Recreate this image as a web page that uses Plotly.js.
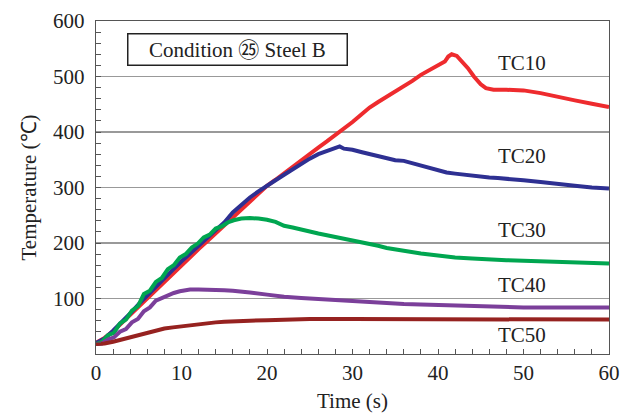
<!DOCTYPE html>
<html>
<head>
<meta charset="utf-8">
<script src="https://cdn.plot.ly/plotly-3.0.1.min.js"></script>
<style>html,body{margin:0;padding:0;background:#fff;}#chart{width:630px;height:414px;}</style>
</head>
<body>
<div id="chart"></div>
<script>
// Time (s) and temperature (°C)
const tc10_t = [0,1,2,3,4,5,6,7,8,9,10,11,12,13,14,15,16,17,18,19,20,21,22,23,24,25,26,27,28,29,30,31,32,33,34,35,36,37,38,39,40,40.8,41.2,41.6,42.2,42.8,43.5,44.2,45,45.6,46.5,48,50,52,54,56,58,60];
const tc10_v = [20,29,41,56,70,86,101,116,131,146,160,175,189,203,217,231,245,259,274,289,303,314,326,338,350,360,372,383,394,406,418,431,444,454,463,472,482,492,503,512,520,527,536,540,537,528,515,500,486,479,476,476,475,470,463,457,451,445];

const tc20_t = [0,1,2,3,4,5,6,7,8,9,10,11,12,13,14,15,16,17,18,19,20,21,22,23,24,25,26,27,28,28.5,29,30,31,32,33,34,35,36,37,38,39,40,41,42,43,44,45,46,47,48,50,52,54,56,58,60];
const tc20_v = [20,28,42,57,73,90,106,121,137,152,167,181,195,209,222,237,255,269,282,293,302,313,323,333,343,352,360,366,371,374,370,368,364,360,357,352,349,348,344,340,335,331,327,325,323,322,320,318,317,316,313,310,306,303,300,298];

const tc30_t = [0,0.7,1.4,2.1,2.8,3.5,4.2,4.9,5.6,6.3,7.0,7.7,8.4,9.1,9.8,10.5,11.2,11.9,12.6,13.3,14.0,14.7,15.4,16.1,17,18,19,20,21,22,23,24,25,26,27,28,29,30,31,32,33,34,35,36,38,40,42,44,46,48,50,53,56,60];
const tc30_v = [18,22,34,38,55,62,78,86,108,114,130,137,153,160,174,180,192,199,210,215,226,230,237,241,244,245,244,242,238,231,228,224,220,217,214,211,207,204,201,198,195,191,188,186,181,177,174,172,170,169,168,166,165,163];

const tc40_t = [0,0.7,1.4,2.1,2.8,3.5,4.2,4.9,5.6,6.3,7.0,7.7,8.4,9.1,9.8,10.5,11,12,13,14,15,16,17,18,20,22,24,26,28,30,32,34,36,38,40,42,44,46,48,50,55,60];
const tc40_v = [18,19,26,30,40,45,57,63,77,84,96,101,107,110,113,115,116,116,116,115,115,114,113,111,107,103,101,99,97,95,93,91,90,89,88,87,86,85,84,84,84,84];

const tc50_t = [0,1,2,3,4,5,6,7,8,9,10,11,12,13,14,15,16,18,20,22,25,30,35,40,45,50,55,60];
const tc50_v = [18,19,22,26,30,35,39,43,46,48,50,52,54,55,57,58,59,60,61,62,63,63,63,62.5,62,62,62,62];

const seriesNames = ["TC10","TC20","TC30","TC40","TC50"];
const seriesColors = ["#EE2B2E","#2E3092","#00A650","#7B3F9A","#962220"];
const labelY = [525,357,223,125,35];
const yTicks = [100,200,300,400,500,600];

const xs = [tc10_t,tc20_t,tc30_t,tc40_t,tc50_t];
const ys = [tc10_v,tc20_v,tc30_v,tc40_v,tc50_v];

const font = "'Liberation Serif', 'Times New Roman', serif";

const traces = seriesNames.map((n,i)=>({
  x: xs[i], y: ys[i], type:'scatter', mode:'lines', name:n,
  line:{color:seriesColors[i], width:4, shape:'linear'},
  hoverinfo:'skip'
}));

const annotations = seriesNames.map((n,i)=>({
  x: 49.8, y: labelY[i], xref:'x', yref:'y', text:n, showarrow:false,
  font:{family:font, size:21, color:'#222'}, xanchor:'center', yanchor:'middle'
}));
annotations.push({
  x: 16.6, y: 548, xref:'x', yref:'y', text:'Condition \u3255 Steel B', showarrow:false,
  font:{family:"'Liberation Serif', 'Noto Sans CJK JP', serif", size:21, color:'#222'},
  bordercolor:'#222', borderwidth:1.5, borderpad:1, width:216, height:28,
  xanchor:'center', yanchor:'middle', bgcolor:'#fff'
});

const layout = {
  width:630, height:414,
  margin:{l:96, r:21, t:21, b:60, pad:0},
  paper_bgcolor:'#fff', plot_bgcolor:'#fff',
  showlegend:false,
  font:{family:font, size:20, color:'#222'},
  xaxis:{
    range:[0,60], dtick:10, tick0:0, ticks:'inside', ticklen:5, tickcolor:'#555',
    showline:true, linecolor:'#555', linewidth:1.2, mirror:true,
    showgrid:false, zeroline:false,
    tickfont:{family:font, size:21, color:'#222'},
    minor:{dtick:2, ticks:'inside', ticklen:5, tickcolor:'#555', showgrid:false},
    title:{text:'Time (s)', font:{family:font, size:21, color:'#222'}, standoff:8}
  },
  yaxis:{
    range:[0,600], tickvals:yTicks, ticks:'inside', ticklen:5, tickcolor:'#555',
    showline:true, linecolor:'#555', linewidth:1.2, mirror:true,
    showgrid:true, gridcolor:'#999', gridwidth:1.2, zeroline:false,
    tickfont:{family:font, size:21, color:'#222'},
    ticklabelstandoff:6,
    minor:{dtick:20, tick0:0, ticks:'inside', ticklen:5, tickcolor:'#555', showgrid:false},
    title:{text:'Temperature (\u2103)', font:{family:font, size:21, color:'#222'}, standoff:10}
  },
  annotations: annotations
};

Plotly.newPlot('chart', traces, layout, {displayModeBar:false, staticPlot:true});
</script>
</body>
</html>
